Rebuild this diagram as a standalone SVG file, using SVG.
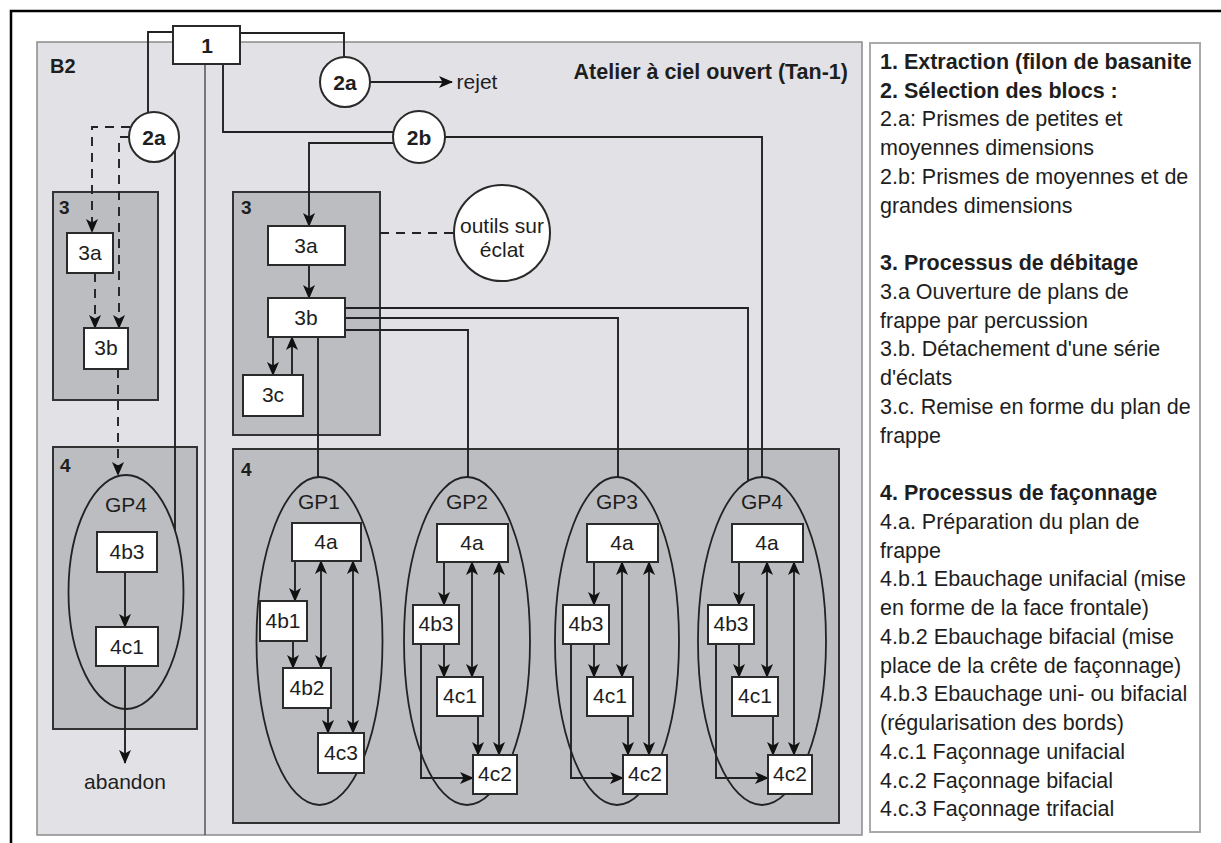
<svg xmlns="http://www.w3.org/2000/svg" width="1221" height="843" viewBox="0 0 1221 843">
<style>
text{font-family:"Liberation Sans",Arial,sans-serif;fill:#1e1e1e;}
.lbl{font-size:21px;text-anchor:middle;}
.b{font-weight:bold;}
.node{fill:#fff;stroke:#2a2a2a;stroke-width:2;}
.grp{fill:#bcbdc1;stroke:#333;stroke-width:2;}
.ell{fill:none;stroke:#222;stroke-width:1.8;}
.c{fill:none;stroke:#222;stroke-width:1.9;}
.d{fill:none;stroke:#222;stroke-width:1.9;stroke-dasharray:9,7;}
.a{marker-end:url(#ah);}
.aa{marker-end:url(#ah);marker-start:url(#ah);}
.leg{font-size:21.5px;}
</style>
<defs>
<marker id="ah" viewBox="0 0 14 14" refX="13" refY="7" markerWidth="14" markerHeight="14" markerUnits="userSpaceOnUse" orient="auto-start-reverse">
<path d="M0,1 L14,7 L0,13 L3.5,7 z" fill="#111"/>
</marker>
</defs>
<rect width="1221" height="843" fill="#fff"/>
<!-- outer frame -->
<path d="M11,843 L11,11 L1221,11" fill="none" stroke="#000" stroke-width="2.5"/>
<!-- main panel -->
<g id="panel">
<rect x="37" y="42" width="825" height="793" fill="#e2e2e6" stroke="#8a8a8a" stroke-width="1.5"/>
<line x1="205" y1="64" x2="205" y2="835" stroke="#555" stroke-width="1.5"/>
<text x="50" y="73" class="b" font-size="20">B2</text>
<text x="848" y="79" class="b" font-size="21.5" text-anchor="end">Atelier à ciel ouvert (Tan-1)</text>
</g>
<!-- group boxes -->
<g id="b2-3"><rect class="grp" x="53" y="192" width="105" height="208"/><text x="59" y="214" class="b" font-size="19">3</text></g>
<g id="b2-4"><rect class="grp" x="53" y="447" width="144" height="282"/><text x="60" y="472" class="b" font-size="19">4</text></g>
<g id="t-3"><rect class="grp" x="233" y="192" width="147" height="243"/><text x="241" y="214" class="b" font-size="19">3</text></g>
<g id="t-4"><rect class="grp" x="233" y="449" width="606" height="374"/><text x="241" y="476" class="b" font-size="19">4</text></g>
<!-- legend -->
<g id="legend">
<rect x="870" y="43" width="330" height="789" fill="#fff" stroke="#aaa" stroke-width="2"/>
<text class="leg b" x="880" y="69">1. Extraction (filon de basanite</text>
<text class="leg b" x="880" y="98">2. Sélection des blocs :</text>
<text class="leg" x="880" y="126">2.a: Prismes de petites et</text>
<text class="leg" x="880" y="155">moyennes dimensions</text>
<text class="leg" x="880" y="184">2.b: Prismes de moyennes et de</text>
<text class="leg" x="880" y="213">grandes dimensions</text>
<text class="leg b" x="880" y="270">3. Processus de débitage</text>
<text class="leg" x="880" y="299">3.a Ouverture de plans de</text>
<text class="leg" x="880" y="328">frappe par percussion</text>
<text class="leg" x="880" y="356">3.b. Détachement d'une série</text>
<text class="leg" x="880" y="385">d'éclats</text>
<text class="leg" x="880" y="414">3.c. Remise en forme du plan de</text>
<text class="leg" x="880" y="443">frappe</text>
<text class="leg b" x="880" y="500">4. Processus de façonnage</text>
<text class="leg" x="880" y="529">4.a. Préparation du plan de</text>
<text class="leg" x="880" y="558">frappe</text>
<text class="leg" x="880" y="586">4.b.1 Ebauchage unifacial (mise</text>
<text class="leg" x="880" y="615">en forme de la face frontale)</text>
<text class="leg" x="880" y="644">4.b.2 Ebauchage bifacial (mise</text>
<text class="leg" x="880" y="673">place de la crête de façonnage)</text>
<text class="leg" x="880" y="701">4.b.3 Ebauchage uni- ou bifacial</text>
<text class="leg" x="880" y="730">(régularisation des bords)</text>
<text class="leg" x="880" y="759">4.c.1 Façonnage unifacial</text>
<text class="leg" x="880" y="788">4.c.2 Façonnage bifacial</text>
<text class="leg" x="880" y="816">4.c.3 Façonnage trifacial</text>
</g>
<!-- ellipses -->
<g id="gp-ellipses">
<ellipse class="ell" cx="126" cy="592" rx="57.5" ry="117"/>
<ellipse class="ell" cx="319.5" cy="641" rx="63" ry="164"/>
<ellipse class="ell" cx="467" cy="641" rx="63" ry="164"/>
<ellipse class="ell" cx="617" cy="641" rx="62" ry="164"/>
<ellipse class="ell" cx="762" cy="641" rx="64" ry="164"/>
</g>
<!-- connectors -->
<g id="connectors">
<path class="c" d="M173,32 H148 V113"/>
<path class="c" d="M240,33 H344 V57"/>
<path class="c a" d="M370,82 H452"/>
<path class="c" d="M223,64 V132 H394"/>
<path class="c a" d="M394,143 H309 V226"/>
<path class="c" d="M445,137 H762 V477"/>
<path class="c" d="M175,150 V531"/>
<path class="d a" d="M130,127 H92 V232"/>
<path class="d a" d="M129,137 H119 V328"/>
<path class="d a" d="M95,273 V328"/>
<path class="d a" d="M118,369 V475"/>
<path class="c a" d="M125,572 V627"/>
<path class="c a" d="M125,666 V763"/>
<path class="d" d="M380,233 H454"/>
<path class="c a" d="M309,265 V298"/>
<path class="c a" d="M273,337 V375"/>
<path class="c a" d="M292,375 V337"/>
<path class="c" d="M318,337 V478"/>
<path class="c" d="M345,330 H468 V477"/>
<path class="c" d="M345,318 H618 V477"/>
<path class="c" d="M345,308 H748 V481"/>
<!-- GP1 -->
<path class="c a" d="M295,561 V601"/>
<path class="c a" d="M293,641 V668"/>
<path class="c aa" d="M321,561 V668"/>
<path class="c a" d="M328,708 V733"/>
<path class="c aa" d="M353,561 V733"/>
<!-- GP2 -->
<path class="c a" d="M444,562 V605"/>
<path class="c a" d="M444,644 V677"/>
<path class="c aa" d="M472,562 V677"/>
<path class="c a" d="M478,716 V755"/>
<path class="c aa" d="M499,562 V755"/>
<path class="c a" d="M421,644 V778 H473"/>
<!-- GP3 -->
<path class="c a" d="M594,562 V605"/>
<path class="c a" d="M594,644 V677"/>
<path class="c aa" d="M622,562 V677"/>
<path class="c a" d="M628,716 V755"/>
<path class="c aa" d="M649,562 V755"/>
<path class="c a" d="M571,644 V778 H623"/>
<!-- GP4 -->
<path class="c a" d="M739,562 V605"/>
<path class="c a" d="M739,644 V677"/>
<path class="c aa" d="M767,562 V677"/>
<path class="c a" d="M773,716 V755"/>
<path class="c aa" d="M794,562 V755"/>
<path class="c a" d="M716,644 V778 H768"/>
</g>
<!-- top nodes -->
<g id="n1"><rect class="node" x="173" y="26" width="67" height="38"/><text class="lbl b" x="207" y="53" font-size="22">1</text></g>
<g id="n2a-left"><circle class="node" cx="154" cy="137" r="25"/><text class="lbl b" x="154" y="145">2a</text></g>
<g id="n2a-right"><circle class="node" cx="345" cy="82" r="25"/><text class="lbl b" x="345" y="90">2a</text></g>
<g id="rejet"><text class="lbl" x="477" y="89" font-size="20">rejet</text></g>
<g id="n2b"><circle class="node" cx="419" cy="137" r="26"/><text class="lbl b" x="419" y="145">2b</text></g>
<g id="outils"><circle class="node" cx="502" cy="233" r="48"/><text class="lbl" x="502" y="233" font-size="20">outils sur</text><text class="lbl" x="502" y="257" font-size="20">éclat</text></g>
<!-- B2 nodes -->
<g id="b2-3a"><rect class="node" x="67" y="233" width="46" height="40"/><text class="lbl" x="90" y="260" font-size="19">3a</text></g>
<g id="b2-3b"><rect class="node" x="84" y="328" width="44" height="41"/><text class="lbl" x="106" y="355" font-size="19">3b</text></g>
<g id="b2-gp4"><text class="lbl" x="126" y="512" font-size="20" fill="#333">GP4</text></g>
<g id="b2-4b3"><rect class="node" x="97" y="532" width="60" height="40"/><text class="lbl" x="127" y="559" font-size="19">4b3</text></g>
<g id="b2-4c1"><rect class="node" x="96" y="627" width="62" height="39"/><text class="lbl" x="127" y="654" font-size="19">4c1</text></g>
<g id="abandon"><text class="lbl" x="125" y="789" font-size="20">abandon</text></g>
<!-- T3 nodes -->
<g id="t-3a"><rect class="node" x="268" y="226" width="77" height="39"/><text class="lbl" x="306" y="253" font-size="19">3a</text></g>
<g id="t-3b"><rect class="node" x="268" y="298" width="77" height="39"/><text class="lbl" x="306" y="325" font-size="19">3b</text></g>
<g id="t-3c"><rect class="node" x="243" y="375" width="60" height="41"/><text class="lbl" x="273" y="402" font-size="19">3c</text></g>
<!-- GP1 -->
<g id="gp1"><text class="lbl" x="319" y="509" font-size="20" fill="#333">GP1</text>
<rect class="node" x="292" y="523" width="69" height="38"/><text class="lbl" x="326" y="549" font-size="19">4a</text>
<rect class="node" x="260" y="601" width="47" height="40"/><text class="lbl" x="283" y="628" font-size="19">4b1</text>
<rect class="node" x="283" y="668" width="48" height="40"/><text class="lbl" x="307" y="695" font-size="19">4b2</text>
<rect class="node" x="318" y="733" width="46" height="40"/><text class="lbl" x="341" y="760" font-size="19">4c3</text></g>
<!-- GP2 -->
<g id="gp2"><text class="lbl" x="467" y="509" font-size="20" fill="#333">GP2</text>
<rect class="node" x="437" y="524" width="71" height="38"/><text class="lbl" x="472" y="550" font-size="19">4a</text>
<rect class="node" x="413" y="605" width="46" height="39"/><text class="lbl" x="436" y="631" font-size="19">4b3</text>
<rect class="node" x="437" y="677" width="46" height="39"/><text class="lbl" x="460" y="703" font-size="19">4c1</text>
<rect class="node" x="473" y="755" width="44" height="39"/><text class="lbl" x="495" y="781" font-size="19">4c2</text></g>
<!-- GP3 -->
<g id="gp3"><text class="lbl" x="617" y="509" font-size="20" fill="#333">GP3</text>
<rect class="node" x="587" y="524" width="71" height="38"/><text class="lbl" x="622" y="550" font-size="19">4a</text>
<rect class="node" x="563" y="605" width="46" height="39"/><text class="lbl" x="586" y="631" font-size="19">4b3</text>
<rect class="node" x="587" y="677" width="46" height="39"/><text class="lbl" x="610" y="703" font-size="19">4c1</text>
<rect class="node" x="623" y="755" width="44" height="39"/><text class="lbl" x="645" y="781" font-size="19">4c2</text></g>
<!-- GP4 -->
<g id="gp4"><text class="lbl" x="762" y="509" font-size="20" fill="#333">GP4</text>
<rect class="node" x="732" y="524" width="71" height="38"/><text class="lbl" x="767" y="550" font-size="19">4a</text>
<rect class="node" x="708" y="605" width="46" height="39"/><text class="lbl" x="731" y="631" font-size="19">4b3</text>
<rect class="node" x="732" y="677" width="46" height="39"/><text class="lbl" x="755" y="703" font-size="19">4c1</text>
<rect class="node" x="768" y="755" width="44" height="39"/><text class="lbl" x="790" y="781" font-size="19">4c2</text></g>
</svg>
